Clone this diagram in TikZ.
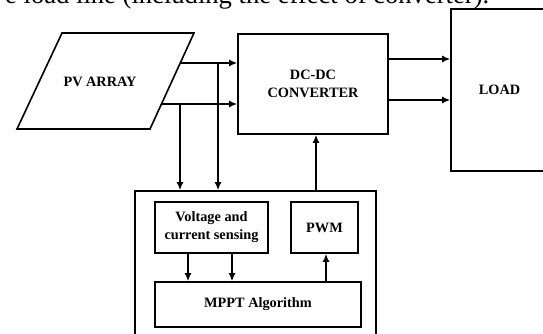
\documentclass[tikz,border=0pt]{standalone}
\usepackage{fontspec}
\setmainfont{Liberation Serif}
\usetikzlibrary{arrows.meta}
\usetikzlibrary{positioning}

\begin{document}
\begin{tikzpicture}[x=1pt, y=-1pt,
    lbl/.style={font=\fontsize{14.3}{18}\selectfont\bfseries},
    blk/.style={lbl, draw, line width=1.6pt, inner sep=0pt, align=center},
    arr/.style={line width=1.6pt, -{Latex[length=8pt,width=7pt]}}]
    \useasboundingbox (0, 0) rectangle (543, 334);
    % last line of the text above the figure
    \node[anchor=base west, inner sep=0pt, font=\fontsize{26.6}{30}\selectfont] (prevline) at (5, 3.5) {e load line (including the effect of converter).};

    % PV array
    \draw[line width=1.6pt] (17, 129) -- (62, 33) -- (194, 33) -- (150, 129) -- cycle;
    \node[lbl] (pv) at (100, 82) {PV ARRAY};
    \coordinate (pvA) at (180, 63);
    \coordinate (pvB) at (161, 104);
    \coordinate (tapA) at (218, 63);
    \coordinate (tapB) at (180, 104);

    \node[blk, minimum width=150pt, minimum height=100pt] (conv) at (313, 84) {DC-DC\\CONVERTER};
    \node[blk, minimum width=97pt, minimum height=162pt] (load) at (499.5, 90) {LOAD};

    % control unit
    \node[draw, line width=1.6pt, minimum width=241pt, minimum height=150pt] (ctrl) at (255.5, 266) {};
    \node[blk, minimum width=113pt, minimum height=51pt] (sense) at (211.5, 227.5) {Voltage and\\current sensing};
    \node[blk, minimum width=67pt, minimum height=51pt] (pwm) at (324.5, 227.5) {PWM};
    \node[blk, minimum width=206pt, minimum height=45pt] (mppt) at (258, 304.5) {MPPT Algorithm};

    \draw[arr] (pvA) -- (pvA -| conv.west);
    \draw[arr] (pvB) -- (pvB -| conv.west);
    \draw[arr] (tapA) -- (tapA |- ctrl.north);
    \draw[arr] (tapB) -- (tapB |- ctrl.north);
    \draw[arr] (conv.east |- 0, 59) -- (load.west |- 0, 59);
    \draw[arr] (conv.east |- 0, 100) -- (load.west |- 0, 100);
    \draw[arr] (ctrl.north -| 316, 0) -- (conv.south -| 316, 0);
    \draw[arr] (sense.south -| 188, 0) -- (mppt.north -| 188, 0);
    \draw[arr] (sense.south -| 232, 0) -- (mppt.north -| 232, 0);
    \draw[arr] (mppt.north -| 326, 0) -- (pwm.south -| 326, 0);
\end{tikzpicture}
\end{document}
